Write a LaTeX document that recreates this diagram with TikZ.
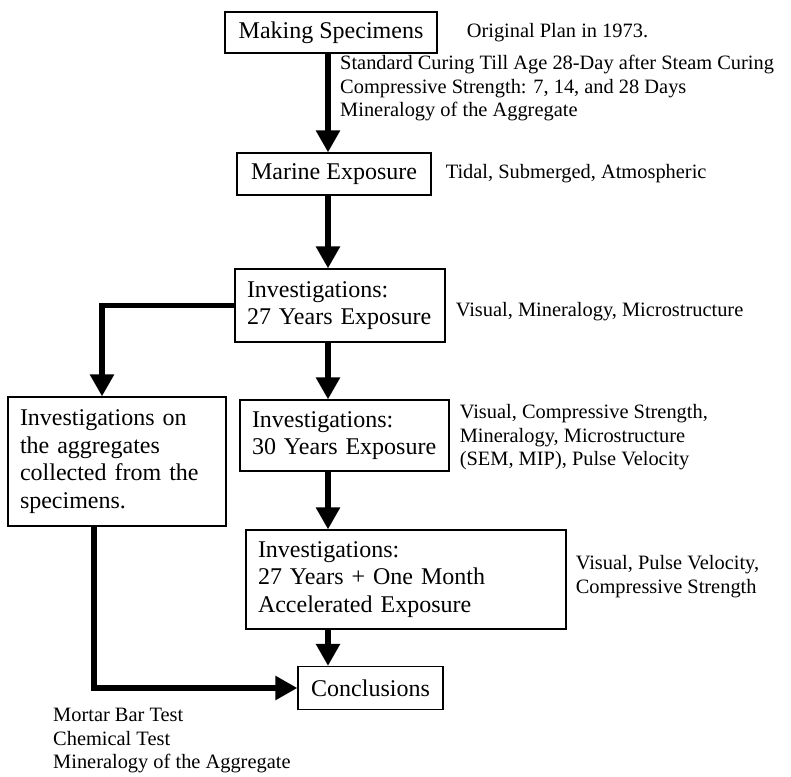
\documentclass[tikz,border=0pt]{standalone}
\usepackage{fontspec}
\setmainfont{Liberation Serif}
\usetikzlibrary{arrows.meta, positioning}
\newcommand{\stagefont}{\fontsize{24}{27.6}\selectfont}
\newcommand{\notefont}{\fontsize{20.4}{23.5}\selectfont}
\tikzstyle{stage} = [rectangle, draw, line width=1.2pt, inner xsep=12pt, inner ysep=2pt, font=\stagefont, text centered]
\tikzstyle{longstage} = [stage, align=left]
\tikzstyle{note} = [inner sep=0pt, align=left, font=\notefont]
\tikzstyle{flow} = [line width=5.5pt, -{Triangle[width=23pt,length=22pt]}]

\begin{document}
\begin{tikzpicture}[x=1pt, y=-1pt]
  \useasboundingbox (0,0) rectangle (791,776);
  \coordinate (spine) at (328,0);
  \coordinate (branchdown) at (102,0);
  \coordinate (branchup) at (94,0);
  % main chain
  \node (ms) [stage, minimum width=212pt, minimum height=41pt] at (331,32.5) {Making Specimens};
  \node (me) [stage, minimum width=194pt, minimum height=42pt] at (334,174) {Marine Exposure};
  \node (i27) [longstage, text width=186pt, minimum height=73pt] at (340,305.5) {Investigations:\\27 Years Exposure};
  \node (i30) [longstage, text width=185pt, minimum height=71pt] at (344.5,435.5) {Investigations:\\30 Years Exposure};
  \node (i27a) [longstage, text width=296pt, minimum height=99pt] at (406,579.5) {Investigations:\\27 Years + One Month\\Accelerated Exposure};
  \node (agg) [longstage, text width=194pt, minimum height=129pt] at (117,461.5) {Investigations on\\the aggregates\\collected from the\\specimens.};
  \node (concl) [stage, minimum width=145pt, minimum height=43pt] at (370.5,688) {Conclusions};
  % notes
  \node (plan) [note, right=29pt of ms] {Original Plan in 1973.};
  \node (curing) [note, anchor=west] at (340,88.5) {Standard Curing Till Age 28-Day after Steam Curing\\Compressive Strength: 7, 14, and 28 Days\\Mineralogy of the Aggregate};
  \node (zones) [note, right=14pt of me] {Tidal, Submerged, Atmospheric};
  \node (tests27) [note, right=10pt of i27, yshift=-6.5pt] {Visual, Mineralogy, Microstructure};
  \node (tests30) [note, right=10pt of i30, yshift=-2pt] {Visual, Compressive Strength,\\Mineralogy, Microstructure\\(SEM, MIP), Pulse Velocity};
  \node (testsacc) [note, right=9pt of i27a, yshift=3pt] {Visual, Pulse Velocity,\\Compressive Strength};
  \node (testsagg) [note, anchor=west] at (53,741) {Mortar Bar Test\\Chemical Test\\Mineralogy of the Aggregate};
  % arrows
  \draw [flow] (ms.south -| spine) -- (me.north -| spine);
  \draw [flow] (me.south -| spine) -- (i27.north -| spine);
  \draw [flow] (i27.south -| spine) -- (i30.north -| spine);
  \draw [flow] (i30.south -| spine) -- (i27a.north -| spine);
  \draw [flow] (i27a.south -| spine) -- (concl.north -| spine);
  \draw [flow] (i27.west) -| (agg.north -| branchdown);
  \draw [flow] (agg.south -| branchup) |- (concl.west);
\end{tikzpicture}
\end{document}
